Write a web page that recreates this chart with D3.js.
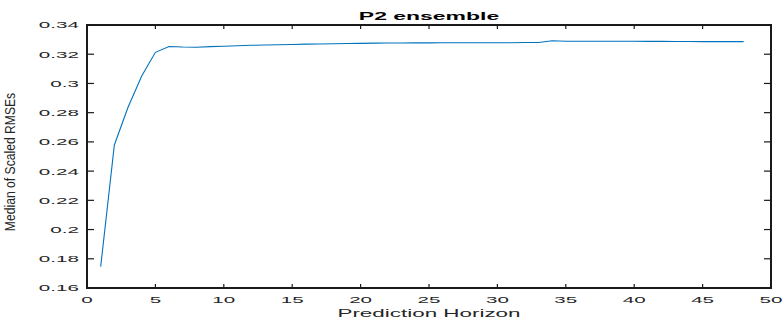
<!DOCTYPE html>
<html>
<head>
<meta charset="utf-8">
<title>P2 ensemble</title>
<style>
  body { margin: 0; background: #fff; }
  text { font-family: "Liberation Sans", Arial, sans-serif; fill: #262626; }
</style>
<script src="https://cdn.jsdelivr.net/npm/d3@7"></script>
</head>
<body>
<script>
  // data
  var horizon = [1, 2, 3, 4, 5, 6, 7, 8, 9, 10, 11, 12, 13, 14, 15, 16, 17, 18, 19, 20,
                 21, 22, 23, 24, 25, 26, 27, 28, 29, 30, 31, 32, 33, 34, 35, 36, 37, 38, 39, 40,
                 41, 42, 43, 44, 45, 46, 47, 48];
  var medianRmse = [0.1746, 0.2579, 0.2837, 0.3051, 0.3213, 0.3253, 0.3249, 0.3248, 0.3252, 0.3255,
                    0.3258, 0.3261, 0.3263, 0.3265, 0.3267, 0.3269, 0.3270, 0.3272, 0.3273, 0.3274,
                    0.3276, 0.3277, 0.3277, 0.3278, 0.3278, 0.3279, 0.3279, 0.3279, 0.3279, 0.3279,
                    0.3279, 0.3280, 0.3280, 0.3292, 0.3289, 0.3289, 0.3289, 0.3289, 0.3289, 0.3289,
                    0.3288, 0.3288, 0.3287, 0.3287, 0.3286, 0.3286, 0.3286, 0.3286];
  var xTicks = [0, 5, 10, 15, 20, 25, 30, 35, 40, 45, 50];
  var yTicks = [0.16, 0.18, 0.2, 0.22, 0.24, 0.26, 0.28, 0.3, 0.32, 0.34];

  var width = 783, height = 320;
  var pLeft = 87, pRight = 771, pTop = 25, pBottom = 288;
  var sx = 2.15; // text in the picture is stretched sideways

  var svg = d3.select("body").append("svg")
      .attr("width", width)
      .attr("height", height);

  var x = d3.scaleLinear().domain([0, 50]).range([pLeft, pRight]);
  var y = d3.scaleLinear().domain([0.16, 0.34]).range([pBottom, pTop]);

  // box
  svg.append("rect")
      .attr("x", pLeft).attr("y", pTop)
      .attr("width", pRight - pLeft).attr("height", pBottom - pTop)
      .attr("fill", "none")
      .attr("stroke", "#1a1a1a")
      .attr("stroke-width", 2);

  // ticks, pointing inwards on all four sides
  var tk = svg.append("g").attr("stroke", "#1a1a1a").attr("stroke-width", 1.2);
  xTicks.forEach(function(v){
    tk.append("line").attr("x1", x(v)).attr("x2", x(v)).attr("y1", pBottom).attr("y2", pBottom - 4);
    tk.append("line").attr("x1", x(v)).attr("x2", x(v)).attr("y1", pTop).attr("y2", pTop + 4);
  });
  yTicks.forEach(function(v){
    tk.append("line").attr("x1", pLeft).attr("x2", pLeft + 7).attr("y1", y(v)).attr("y2", y(v));
    tk.append("line").attr("x1", pRight).attr("x2", pRight - 7).attr("y1", y(v)).attr("y2", y(v));
  });

  // tick labels
  svg.append("g").selectAll("text")
      .data(xTicks).enter().append("text")
      .attr("transform", function(d){ return "translate(" + x(d) + ",303) scale(" + sx + ",1)"; })
      .attr("text-anchor", "middle")
      .style("font-size", "9.6px")
      .text(function(d){ return d; });

  svg.append("g").selectAll("text")
      .data(yTicks).enter().append("text")
      .attr("transform", function(d){ return "translate(79," + (y(d) + 3.4) + ") scale(" + sx + ",1)"; })
      .attr("text-anchor", "end")
      .style("font-size", "9.6px")
      .text(function(d){ return d3.format("")(d); });

  // line
  var line = d3.line()
      .x(function(d, i){ return x(horizon[i]); })
      .y(function(d){ return y(d); });

  svg.append("path")
      .datum(medianRmse)
      .attr("d", line)
      .attr("fill", "none")
      .attr("stroke", "#0072BD")
      .attr("stroke-width", 1.1);

  // labels
  svg.append("text")
      .attr("transform", "translate(" + (pLeft + pRight) / 2 + ",20) scale(1.98,1)")
      .attr("text-anchor", "middle")
      .style("font-size", "11.6px")
      .style("font-weight", "bold")
      .style("fill", "#000")
      .text("P2 ensemble");

  svg.append("text")
      .attr("transform", "translate(" + (pLeft + pRight) / 2 + ",317) scale(2.2,1)")
      .attr("text-anchor", "middle")
      .style("font-size", "10.2px")
      .text("Prediction Horizon");

  svg.append("text")
      .attr("transform", "translate(15,162) rotate(-90) scale(0.9,1.12)")
      .attr("text-anchor", "middle")
      .style("font-size", "13.5px")
      .text("Median of Scaled RMSEs");
</script>
</body>
</html>
